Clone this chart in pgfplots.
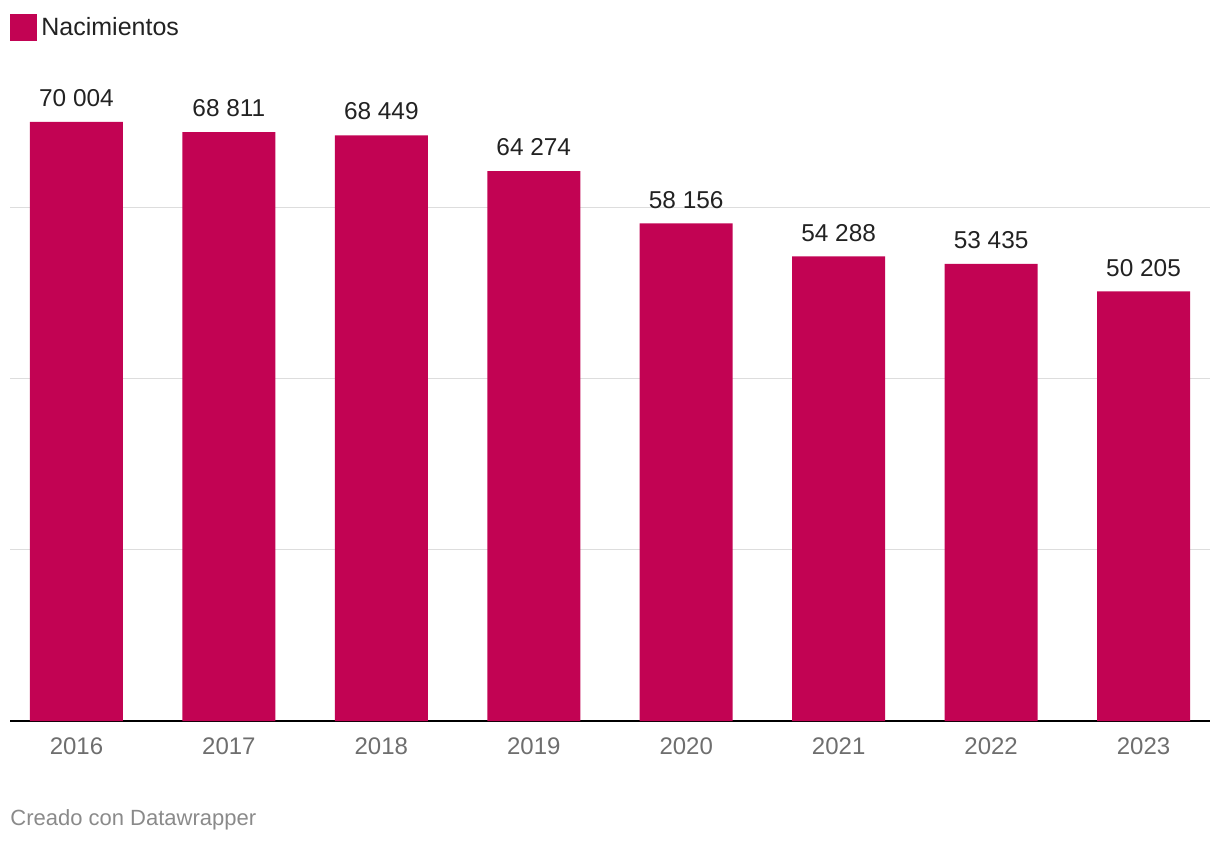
\documentclass[border=0pt]{standalone}
\usepackage{pgfplots}
\pgfplotsset{compat=1.18}
\usepackage{fontspec}
\setmainfont{Liberation Sans}

\definecolor{barc}{HTML}{C20353}
\definecolor{ticktxt}{HTML}{6E6E6E}
\definecolor{valtxt}{HTML}{222222}
\definecolor{gridc}{HTML}{DDDDDD}
\definecolor{foot}{HTML}{8A8A8A}

\begin{document}
\begin{tikzpicture}
% 1 px of the reference = 0.5pt, axis origin at (10px,721px)
\useasboundingbox (-5pt,-62.5pt) rectangle (605pt,360.5pt);
\begin{axis}[
    scale only axis,
    width=600pt, height=320.5pt,
    ymin=0, ymax=74912,
    xmin=-0.436, xmax=7.436,
    ybar, bar width=46.5pt,
    axis lines*=left,
    x axis line style={black, line width=0.75pt},
    y axis line style={draw=none},
    xtick=data,
    xticklabels={2016,2017,2018,2019,2020,2021,2022,2023},
    x tick label style={font=\fontsize{12}{14}\selectfont, text=ticktxt, yshift=-5pt},
    major tick length=0pt,
    ytick={20000,40000,60000},
    yticklabels={},
    scaled y ticks=false,
    ymajorgrids, grid style={gridc, line width=0.5pt},
    nodes near coords,
    every node near coord/.append style={font=\fontsize{12.2}{15}\selectfont, text=valtxt, yshift=4pt,
        /pgf/number format/.cd, fixed, 1000 sep={\ }, assume math mode=true},
    legend style={at={(0,1.1045)}, anchor=north west, draw=none, inner sep=0pt,
        font=\fontsize{12.5}{15}\selectfont, text=valtxt,
        /tikz/every even column/.append style={column sep=5pt}},
    legend image code/.code={\fill[barc] (0pt,-6.75pt) rectangle (13.5pt,6.75pt);},
    clip=false,
]
\addplot[fill=barc, draw=none] coordinates {
    (0,70004)(1,68811)(2,68449)(3,64274)(4,58156)(5,54288)(6,53435)(7,50205)
};
\legend{Nacimientos}
\node[anchor=west, inner sep=0pt, text=foot, font=\fontsize{11}{13}\selectfont]
    at (rel axis cs:0,0) [yshift=-49.5pt] {Creado con Datawrapper};
\end{axis}
\end{tikzpicture}
\end{document}
